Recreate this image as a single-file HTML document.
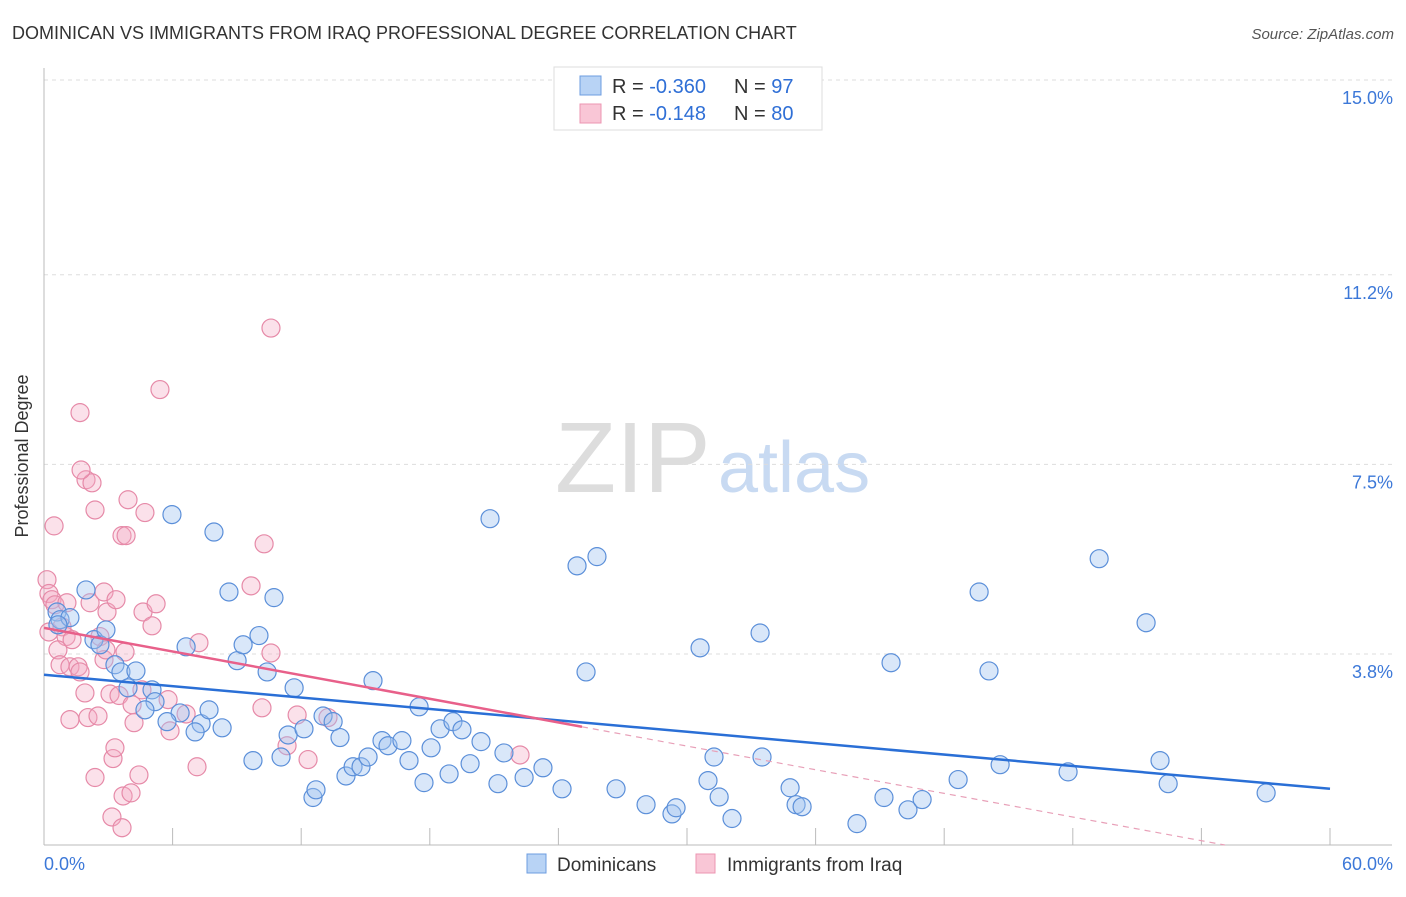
<!DOCTYPE html>
<html><head><meta charset="utf-8"><style>
body{margin:0;background:#fff;font-family:"Liberation Sans",sans-serif;}
svg text{font-family:"Liberation Sans",sans-serif;}
</style></head><body>
<svg id="c" width="1406" height="892" xmlns="http://www.w3.org/2000/svg">
<text x="12" y="39" font-size="18" fill="#333">DOMINICAN VS IMMIGRANTS FROM IRAQ PROFESSIONAL DEGREE CORRELATION CHART</text>
<text x="1394" y="39" font-size="15" fill="#555" font-style="italic" text-anchor="end">Source: ZipAtlas.com</text>
<text x="28" y="456" font-size="18" fill="#333" text-anchor="middle" transform="rotate(-90 28 456)">Professional Degree</text>
<text x="555" y="492" font-size="100" fill="#ddd" font-family="Liberation Serif">ZIP</text>
<text x="718" y="492" font-size="72" fill="#c8daf2">atlas</text>
<g id="grid"></g><g id="axes"></g><g id="pts"></g><g id="trend"></g>
<g>
<rect x="554" y="67" width="268" height="63" fill="#fff" stroke="#ddd"/>
<rect x="580" y="76" width="21" height="19" fill="#b8d3f5" stroke="#6d9de0"/>
<rect x="580" y="104" width="21" height="19" fill="#f9c6d6" stroke="#ec95b2"/>
<text x="612" y="93" font-size="20" fill="#333">R = <tspan fill="#2f6fd6">-0.360</tspan></text>
<text x="734" y="93" font-size="20" fill="#333">N = <tspan fill="#2f6fd6">97</tspan></text>
<text x="612" y="120" font-size="20" fill="#333">R = <tspan fill="#2f6fd6"> -0.148</tspan></text>
<text x="734" y="120" font-size="20" fill="#333">N = <tspan fill="#2f6fd6">80</tspan></text>
</g>
<g>
<rect x="527" y="854" width="19" height="19" fill="#b8d3f5" stroke="#6d9de0"/>
<text x="557" y="871" font-size="19" fill="#333">Dominicans</text>
<rect x="696" y="854" width="19" height="19" fill="#f9c6d6" stroke="#ec95b2"/>
<text x="727" y="871" font-size="19" fill="#333">Immigrants from Iraq</text>
</g>
</svg>
<script>
const blueX=[0.61,0.75,1.21,0.65,1.96,2.33,2.61,2.89,3.31,3.59,4.29,3.92,5.04,5.18,4.71,5.97,6.63,6.35,5.74,7.33,7.05,7.70,8.31,7.93,8.63,9.01,9.29,10.03,10.41,10.73,9.75,11.06,11.67,11.39,12.13,12.55,12.69,13.02,13.49,13.81,14.09,14.42,14.79,15.12,15.35,15.77,16.05,16.70,17.03,17.50,17.73,18.06,18.48,18.90,19.08,19.50,19.88,20.39,20.81,21.18,21.46,22.40,23.28,24.17,24.87,25.29,25.80,26.69,28.09,29.30,29.49,30.61,31.26,30.98,31.50,32.10,33.41,33.50,34.81,35.09,35.37,37.93,39.19,39.52,40.31,40.97,42.65,43.63,44.09,44.61,47.78,49.23,51.42,52.07,52.45,57.02];
const blueY=[4.62,4.47,4.51,4.37,5.05,4.08,3.98,4.27,3.59,3.45,3.47,3.14,3.10,2.87,2.71,6.52,3.94,2.65,2.48,2.44,2.28,2.71,2.36,6.18,5.01,3.67,3.98,4.16,3.45,4.90,1.72,1.79,3.14,2.22,2.34,1.00,1.15,2.59,2.48,2.17,1.42,1.60,1.60,1.79,3.28,2.11,2.01,2.11,1.72,2.77,1.29,1.97,2.34,1.46,2.48,2.32,1.66,2.09,6.44,1.27,1.87,1.39,1.58,1.17,5.52,3.45,5.70,1.17,0.86,0.68,0.80,3.92,1.79,1.33,1.01,0.59,4.21,1.79,1.19,0.86,0.82,0.49,1.00,3.63,0.76,0.96,1.35,5.01,3.47,1.64,1.50,5.66,4.41,1.72,1.27,1.09];
const pinkX=[0.14,0.23,0.37,0.47,0.23,0.51,0.84,1.07,1.03,0.65,0.75,1.21,1.59,1.31,1.68,1.91,1.21,1.68,1.96,2.24,2.38,2.15,2.05,2.52,2.61,2.80,2.80,2.89,2.94,3.08,3.22,3.31,3.36,3.64,3.83,3.78,3.50,2.38,3.17,3.64,3.69,4.06,4.43,4.11,4.20,3.92,4.71,4.62,5.04,5.23,5.41,4.57,5.88,5.79,7.14,7.23,6.63,10.27,9.66,10.59,10.59,10.17,11.34,11.81,12.32,13.25,22.21,1.73];
const pinkY=[5.25,4.98,4.86,6.30,4.23,4.76,4.33,4.80,4.14,3.88,3.59,3.55,3.55,4.08,3.45,3.04,2.52,8.51,7.20,7.14,6.61,4.80,2.56,2.59,4.14,3.69,5.01,3.88,4.62,3.02,1.76,1.97,4.86,6.11,6.11,3.84,2.99,1.39,0.62,0.41,1.03,1.09,1.44,2.81,2.46,6.81,6.56,4.62,4.35,4.78,8.96,3.10,2.30,2.91,1.60,4.02,2.63,5.95,5.13,10.16,3.82,2.75,2.01,2.61,1.74,2.56,1.83,7.39];
const yTicks=[3.8,7.5,11.2,15.0];
const yTickLabels=["3.8%","7.5%","11.2%","15.0%"];
const xTicks=[0,6,12,18,24,30,36,42,48,54,60];
const blueTrend=[3.395,1.17];
const pinkTrend=[4.31,-0.0769];
const pinkSolidEnd=25.1;

const NS="http://www.w3.org/2000/svg";
const X=v=>44+v/60*1286;
const Y=v=>848.75-v*51.25;
function mk(tag,attrs,parent){const e=document.createElementNS(NS,tag);for(const k in attrs)e.setAttribute(k,attrs[k]);parent.appendChild(e);return e;}
const grid=document.getElementById('grid'),axes=document.getElementById('axes'),pts=document.getElementById('pts'),trend=document.getElementById('trend');
yTicks.forEach((t,i)=>{
  const l=mk('line',{x1:44,x2:1392,y1:Y(t),y2:Y(t),stroke:'#ddd','stroke-dasharray':'4 4'},grid);
  
  
  const tx=mk('text',{x:1393,y:Y(t)+24,'font-size':18,fill:'#3c78d8','text-anchor':'end'},axes);
  tx.textContent=yTickLabels[i];
  
  
});
const ya=mk('line',{x1:44,x2:44,y1:68,y2:845,stroke:'#bbb'},axes);


const xa=mk('line',{x1:44,x2:1392,y1:845,y2:845,stroke:'#bbb'},axes);


xTicks.forEach(t=>{
  const l=mk('line',{x1:X(t),x2:X(t),y1:828,y2:845,stroke:'#bbb'},axes);
  
  
});
const xl0=mk('text',{x:44,y:870,'font-size':18,fill:'#3c78d8'},axes);xl0.textContent='0.0%';


const xl1=mk('text',{x:1393,y:870,'font-size':18,fill:'#3c78d8','text-anchor':'end'},axes);xl1.textContent='60.0%';


pinkX.forEach((v,i)=>{
  const c=mk('circle',{cx:X(v),cy:Y(pinkY[i]),r:9,fill:'rgba(244,170,195,0.35)',stroke:'#e68aa8','stroke-width':1.2},pts);
  
  
});
blueX.forEach((v,i)=>{
  const c=mk('circle',{cx:X(v),cy:Y(blueY[i]),r:9,fill:'rgba(160,196,240,0.4)',stroke:'#5b8fd9','stroke-width':1.2},pts);
  
  
});
const bl=mk('line',{x1:X(0),y1:Y(blueTrend[0]),x2:X(60),y2:Y(blueTrend[1]),stroke:'#2a6fd6','stroke-width':2.5},trend);


const pe=pinkTrend[0]+pinkTrend[1]*pinkSolidEnd;
const pl=mk('line',{x1:X(0),y1:Y(pinkTrend[0]),x2:X(pinkSolidEnd),y2:Y(pe),stroke:'#e8608a','stroke-width':2.5},trend);


const floorV=(848.75-845)/51.25;
const endX=Math.min((floorV-pinkTrend[0])/pinkTrend[1],60);
const endY=pinkTrend[0]+pinkTrend[1]*endX;
const pd=mk('line',{x1:X(pinkSolidEnd),y1:Y(pe),x2:X(endX),y2:Y(endY),stroke:'#e8a0b8','stroke-width':1.2,'stroke-dasharray':'6 5'},trend);


</script>
</body></html>
